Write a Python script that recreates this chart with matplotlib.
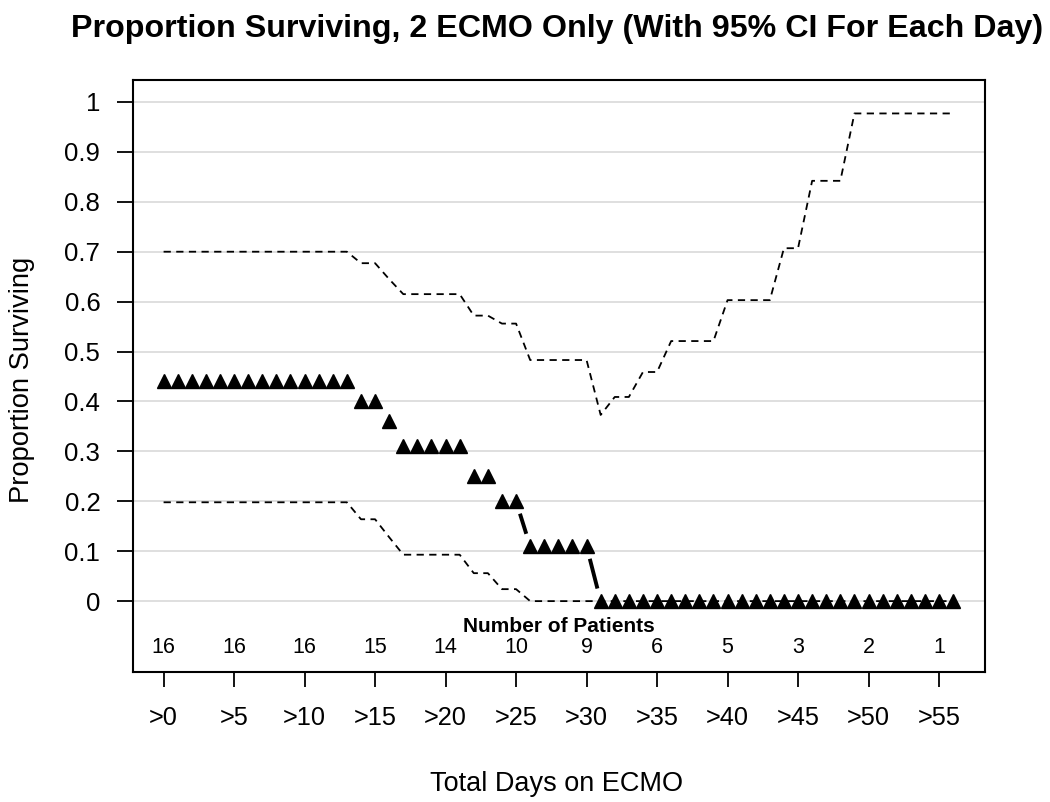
import matplotlib
matplotlib.use('Agg')
import matplotlib.pyplot as plt
import numpy as np

# days on ECMO (one point per day)
days = np.arange(0, 57)

# proportion surviving for each day
surv = [0.44] * 14 + [0.40] * 2 + [0.36] + [0.31] * 5 + [0.25] * 2 + \
       [0.20] * 2 + [0.11] * 5 + [0.0] * 26

# 95% CI, upper and lower
ci_upper = [0.70] * 14 + [0.677] * 2 + [0.645] + [0.615] * 5 + [0.572] * 2 + \
           [0.556] * 2 + [0.483] * 5 + [0.373] + [0.409] * 2 + [0.459] * 2 + \
           [0.521] * 4 + [0.603] * 4 + [0.707] * 2 + [0.842] * 3 + [0.977] * 8
ci_lower = [0.198] * 14 + [0.164] * 2 + [0.128] + [0.093] * 5 + [0.056] * 2 + \
           [0.024] * 2 + [0.0] * 31

tick_days = [0, 5, 10, 15, 20, 25, 30, 35, 40, 45, 50, 55]
tick_labels = ['>' + str(d) for d in tick_days]
n_patients = [16, 16, 16, 15, 14, 10, 9, 6, 5, 3, 2, 1]

y_ticks = [0, 0.1, 0.2, 0.3, 0.4, 0.5, 0.6, 0.7, 0.8, 0.9, 1]
y_labels = ['0', '0.1', '0.2', '0.3', '0.4', '0.5', '0.6', '0.7', '0.8', '0.9', '1']

plt.rcParams['font.family'] = ['Liberation Sans', 'DejaVu Sans']

fig = plt.figure(figsize=(10.5, 8.02), dpi=100)
ax = fig.add_axes([133 / 1050, 1 - 672 / 802, 852 / 1050, 592 / 802])
ax.set_xlim(-2.17, 58.26)
ax.set_ylim(-0.142, 1.044)

for yv in y_ticks:
    ax.axhline(yv, color='#dcdcdc', lw=1.3, zorder=0)

# CI lines
ax.plot(days, ci_upper, color='black', lw=1.3, dashes=(4, 3), zorder=2)
ax.plot(days, ci_lower, color='black', lw=1.3, dashes=(4, 3), zorder=2)

# connecting segments (R type="b" style: gap around each point)
fig.canvas.draw()
gap = 16
for i in range(len(days) - 1):
    if surv[i] == surv[i + 1]:
        continue
    p0 = ax.transData.transform((days[i], surv[i]))
    p1 = ax.transData.transform((days[i + 1], surv[i + 1]))
    d = p1 - p0
    L = np.hypot(*d)
    if L <= 2 * gap + 2:
        continue
    u = d / L
    a = ax.transData.inverted().transform(p0 + u * (gap - 3))
    b = ax.transData.inverted().transform(p1 - u * (gap - 3))
    ax.plot([a[0], b[0]], [a[1], b[1]], color='black', lw=2.8,
            solid_capstyle='butt', zorder=3)

ax.plot(days, surv, linestyle='none', marker='^', markersize=10.5,
        color='black', zorder=4)

# number at risk row
ax.text(np.mean(ax.get_xlim()), -0.05, 'Number of Patients',
        ha='center', va='center', fontsize=15, fontweight='bold')
for d, n in zip(tick_days, n_patients):
    ax.text(d, -0.092, str(n), ha='center', va='center', fontsize=15.5)

ax.set_xticks(tick_days)
ax.set_xticklabels(tick_labels, fontsize=18.3)
ax.set_yticks(y_ticks)
ax.set_yticklabels(y_labels, fontsize=18.5)
ax.tick_params(axis='x', length=11, width=1.3, pad=13.5)
ax.tick_params(axis='y', length=11.5, width=1.3, pad=12)
for s in ax.spines.values():
    s.set_linewidth(1.5)

fig.text(557 / 1050, 1 - 784 / 802, 'Total Days on ECMO', ha='center', va='center',
         fontsize=19.5)
fig.text(22 / 1050, 1 - 380 / 802, 'Proportion Surviving', ha='center', va='center',
         rotation=90, fontsize=19.7)
fig.text(557 / 1050, 1 - 29 / 802,
         'Proportion Surviving, 2 ECMO Only (With 95% CI For Each Day)',
         ha='center', va='center', fontsize=23.2, fontweight='bold')

fig.savefig('out.png', dpi=100)
